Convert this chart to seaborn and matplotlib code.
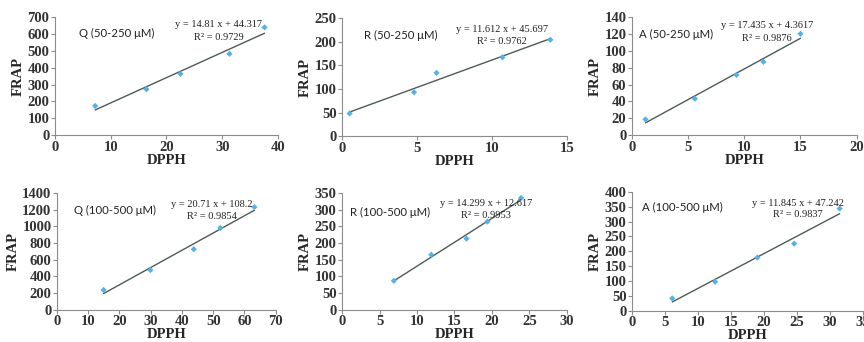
import matplotlib
matplotlib.use('Agg')

import numpy as np
import pandas as pd
import matplotlib.pyplot as plt
import seaborn as sns

# === Data (DPPH vs FRAP) ===
labels = ["Q (50-250 μM)", "R (50-250 μM)", "A (50-250 μM)",
          "Q (100-500 μM)", "R (100-500 μM)", "A (100-500 μM)"]

dpph_q1 = [7.2, 16.4, 22.5, 31.3, 37.6]
frap_q1 = [173, 272, 363, 482, 639]

dpph_r1 = [0.5, 4.8, 6.3, 10.7, 13.9]
frap_r1 = [48, 93, 134, 167, 204]

dpph_a1 = [1.2, 5.6, 9.3, 11.7, 15.0]
frap_a1 = [18.6, 43.2, 71.4, 86.9, 120.2]

dpph_q2 = [14.9, 29.9, 43.8, 52.3, 63.2]
frap_q2 = [238, 476, 726, 980, 1230]

dpph_r2 = [6.9, 11.9, 16.6, 19.4, 23.9]
frap_r2 = [87, 165, 213, 264, 335]

dpph_a2 = [6.1, 12.6, 19.0, 24.6, 31.5]
frap_a2 = [42, 98, 179, 226, 344]

# equations as printed on the original chart
eq_texts = ["y = 14.81 x + 44.317", "y = 11.612 x + 45.697", "y = 17.435 x + 4.3617",
            "y = 20.71 x + 108.2", "y = 14.299 x + 12.617", "y = 11.845 x + 47.242"]
r2_texts = ["R² = 0.9729", "R² = 0.9762", "R² = 0.9876",
            "R² = 0.9854", "R² = 0.9953", "R² = 0.9837"]

xlims = [40, 15, 20, 70, 30, 35]
xsteps = [10, 5, 5, 10, 5, 5]
ylims = [700, 250, 140, 1400, 350, 400]
ysteps = [100, 50, 20, 200, 50, 50]

xs = [dpph_q1, dpph_r1, dpph_a1, dpph_q2, dpph_r2, dpph_a2]
ys = [frap_q1, frap_r1, frap_a1, frap_q2, frap_r2, frap_a2]

# positions of the axes and the text inside each axes
boxes = [(0.0637, 0.605, 0.258, 0.345), (0.396, 0.602, 0.260, 0.345), (0.7315, 0.605, 0.260, 0.345),
         (0.066, 0.094, 0.253, 0.342), (0.396, 0.094, 0.260, 0.342), (0.7315, 0.091, 0.267, 0.348)]
label_pos = [(0.108, 0.86), (0.098, 0.85), (0.03, 0.85), (0.078, 0.85), (0.035, 0.83), (0.045, 0.87)]
eq_pos = [(0.735, 0.94, 0.83), (0.71, 0.905, 0.80), (0.60, 0.93, 0.82),
          (0.71, 0.90, 0.80), (0.64, 0.91, 0.81), (0.72, 0.90, 0.81)]

sns.set_style("white")
plt.rcParams['font.family'] = ['Liberation Serif', 'DejaVu Serif']

fig = plt.figure(figsize=(8.64, 3.42), dpi=100)

for i in range(6):
    ax = fig.add_axes(boxes[i])
    df = pd.DataFrame({"DPPH": xs[i], "FRAP": ys[i]})
    # linear trendline over the data range
    sns.regplot(data=df, x="DPPH", y="FRAP", ax=ax, ci=None, truncate=True,
                scatter=False, line_kws={"color": "#4d5b57", "linewidth": 1.0})
    sns.scatterplot(data=df, x="DPPH", y="FRAP", ax=ax, marker="D", s=10,
                    color="#55b2e6", edgecolor="none", zorder=3)
    ax.set_xlim(0, xlims[i])
    ax.set_ylim(0, ylims[i])
    ax.set_xticks(np.arange(0, xlims[i] + 0.1, xsteps[i]))
    ax.set_yticks(np.arange(0, ylims[i] + 0.1, ysteps[i]))
    for s in ["top", "right"]:
        ax.spines[s].set_visible(False)
    for s in ["left", "bottom"]:
        ax.spines[s].set_color("#8c8c8c")
        ax.spines[s].set_linewidth(0.8)
    ax.tick_params(axis="both", which="both", labelsize=10.5, length=3, width=0.8,
                   color="#8c8c8c", pad=1, direction="out", bottom=True, left=True)
    for t in ax.get_xticklabels() + ax.get_yticklabels():
        t.set_fontweight("bold")
        t.set_color("#333333")
    ax.set_xlabel("DPPH", fontsize=10.5, fontweight="bold", labelpad=0)
    ax.set_ylabel("FRAP", fontsize=10.5, fontweight="bold", labelpad=2)

    lx, ly = label_pos[i]
    ax.text(lx, ly, labels[i], transform=ax.transAxes, fontsize=8.2,
            ha="left", va="center", family=["Lato", "DejaVu Sans"], color="#222222")
    ex, ey, ry = eq_pos[i]
    ax.text(ex, ey, eq_texts[i], transform=ax.transAxes, fontsize=7.5,
            ha="center", va="center", color="#222222")
    ax.text(ex, ry, r2_texts[i], transform=ax.transAxes, fontsize=7.5,
            ha="center", va="center", color="#222222")

plt.savefig("out.png", dpi=100)
plt.close()
